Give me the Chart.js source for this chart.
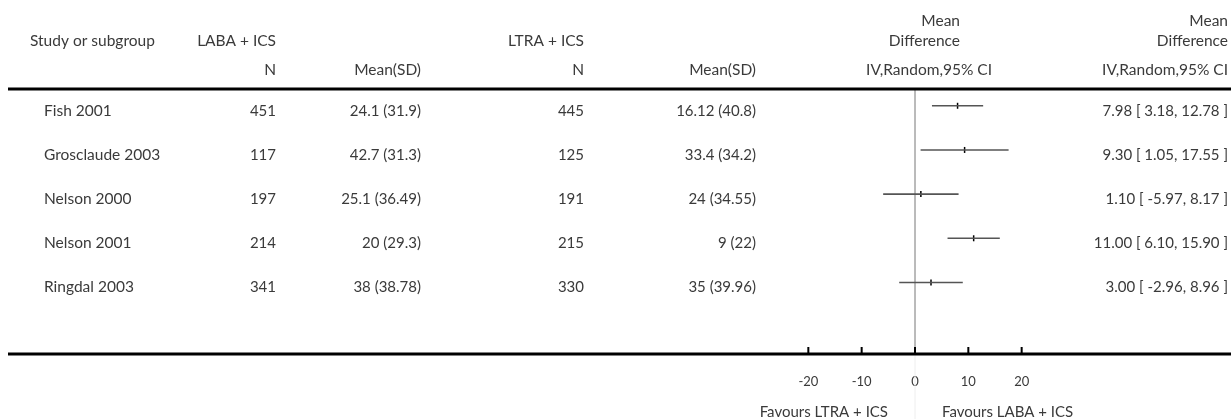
<!DOCTYPE html>
<html lang="en">
<head>
    <meta charset="UTF-8">
    <title>Forest plot: LABA + ICS vs LTRA + ICS</title>
    <script src="https://cdn.jsdelivr.net/npm/chart.js"></script>
    <style>
        body { margin: 0; background: #fff; }
        #wrap { width: 1231px; height: 419px; }
    </style>
</head>
<body>
    <div id="wrap"><canvas id="forest" width="1231" height="419"></canvas></div>

    <script>
        // study rows
        const studies = ['Fish 2001', 'Grosclaude 2003', 'Nelson 2000', 'Nelson 2001', 'Ringdal 2003'];
        const labaN = [451, 117, 197, 214, 341];
        const labaMeanSD = ['24.1 (31.9)', '42.7 (31.3)', '25.1 (36.49)', '20 (29.3)', '38 (38.78)'];
        const ltraN = [445, 125, 191, 215, 330];
        const ltraMeanSD = ['16.12 (40.8)', '33.4 (34.2)', '24 (34.55)', '9 (22)', '35 (39.96)'];
        const md = [7.98, 9.30, 1.10, 11.00, 3.00];
        const ciLow = [3.18, 1.05, -5.97, 6.10, -2.96];
        const ciHigh = [12.78, 17.55, 8.17, 15.90, 8.96];
        const xTicks = [-20, -10, 0, 10, 20];

        const FONT = 'Lato, "DejaVu Sans", sans-serif';
        const TEXT = '#3a3a3a';

        const ciSets = studies.map((s, i) => ({
            label: s,
            data: [{ x: ciLow[i], y: i }, { x: ciHigh[i], y: i }],
            showLine: true,
            borderColor: '#555',
            borderWidth: 1.6,
            pointRadius: 0
        }));

        const fmt = v => v.toFixed(2);
        const ciText = i => fmt(md[i]) + ' [ ' + fmt(ciLow[i]) + ', ' + fmt(ciHigh[i]) + ' ]';

        const tablePlugin = {
            id: 'table',
            afterDraw(chart) {
                const c = chart.ctx;
                const x = chart.scales.x, y = chart.scales.y;
                const x0 = x.getPixelForValue(0);
                c.save();
                c.fillStyle = TEXT;
                c.textBaseline = 'middle';

                const put = (t, px, py, align) => { c.textAlign = align; c.fillText(t, px, py); };

                // header
                c.font = '15.5px ' + FONT;
                put('Study or subgroup', 30, 41, 'left');
                put('LABA + ICS', 276, 41, 'right');
                put('LTRA + ICS', 584, 41, 'right');
                put('Mean', 960, 21, 'right');
                put('Difference', 960, 41, 'right');
                put('Mean', 1228, 21, 'right');
                put('Difference', 1228, 41, 'right');
                put('N', 276, 70, 'right');
                put('Mean(SD)', 421, 70, 'right');
                put('N', 584, 70, 'right');
                put('Mean(SD)', 756, 70, 'right');
                put('IV,Random,95% CI', 992, 70, 'right');
                put('IV,Random,95% CI', 1228, 70, 'right');

                // rows
                studies.forEach((s, i) => {
                    const py = y.getPixelForValue(i) + 5;
                    c.font = '15.5px ' + FONT;
                    put(s, 44, py, 'left');
                    c.font = '15px ' + FONT;
                    put(String(labaN[i]), 276, py, 'right');
                    put(labaMeanSD[i], 421, py, 'right');
                    put(String(ltraN[i]), 584, py, 'right');
                    put(ltraMeanSD[i], 756, py, 'right');
                    put(ciText(i), 1228, py, 'right');
                });

                // favours labels
                c.font = '15px ' + FONT;
                put('Favours LTRA + ICS', x0 - 27, 412, 'right');
                put('Favours LABA + ICS', x0 + 27, 412, 'left');

                // rules
                const top = chart.chartArea.top, bot = chart.chartArea.bottom;
                c.strokeStyle = '#000';
                c.lineWidth = 3;
                c.beginPath();
                c.moveTo(8, top); c.lineTo(1231, top);
                c.moveTo(8, bot); c.lineTo(1231, bot);
                c.stroke();

                // tick marks pointing up
                c.lineWidth = 2;
                c.beginPath();
                xTicks.forEach(v => {
                    const px = x.getPixelForValue(v);
                    c.moveTo(px, bot - 7); c.lineTo(px, bot);
                });
                c.stroke();
                c.restore();
            },
            beforeDatasetsDraw(chart) {
                const c = chart.ctx;
                const x0 = chart.scales.x.getPixelForValue(0);
                const { top, bottom } = chart.chartArea;
                c.save();
                c.lineWidth = 1;
                c.strokeStyle = '#777';
                c.beginPath();
                c.moveTo(x0, top); c.lineTo(x0, bottom);
                c.stroke();
                c.strokeStyle = '#eee';
                c.beginPath();
                c.moveTo(x0, bottom); c.lineTo(x0, 419);
                c.stroke();
                c.restore();
            }
        };

        new Chart(document.getElementById('forest'), {
            type: 'scatter',
            data: {
                datasets: [
                    ...ciSets,
                    {
                        label: 'Mean difference',
                        data: md.map((v, i) => ({ x: v, y: i })),
                        pointStyle: 'line',
                        rotation: 90,
                        pointRadius: 3,
                        borderColor: '#000',
                        backgroundColor: '#000',
                        borderWidth: 1.5
                    }
                ]
            },
            options: {
                responsive: false,
                animation: false,
                layout: { padding: { left: 755, right: 156, top: 89, bottom: 0 } },
                plugins: { legend: { display: false }, tooltip: { enabled: false } },
                scales: {
                    x: {
                        type: 'linear',
                        min: -30,
                        max: 30,
                        afterBuildTicks: axis => { axis.ticks = xTicks.map(v => ({ value: v })); },
                        afterFit: axis => { axis.height = 65; },
                        grid: { display: false, drawTicks: false },
                        border: { display: false },
                        ticks: { color: TEXT, padding: 20, font: { family: FONT, size: 13 } }
                    },
                    y: {
                        type: 'linear',
                        display: false,
                        reverse: true,
                        min: -0.38,
                        max: 5.62
                    }
                }
            },
            plugins: [tablePlugin]
        });
    </script>
</body>
</html>
